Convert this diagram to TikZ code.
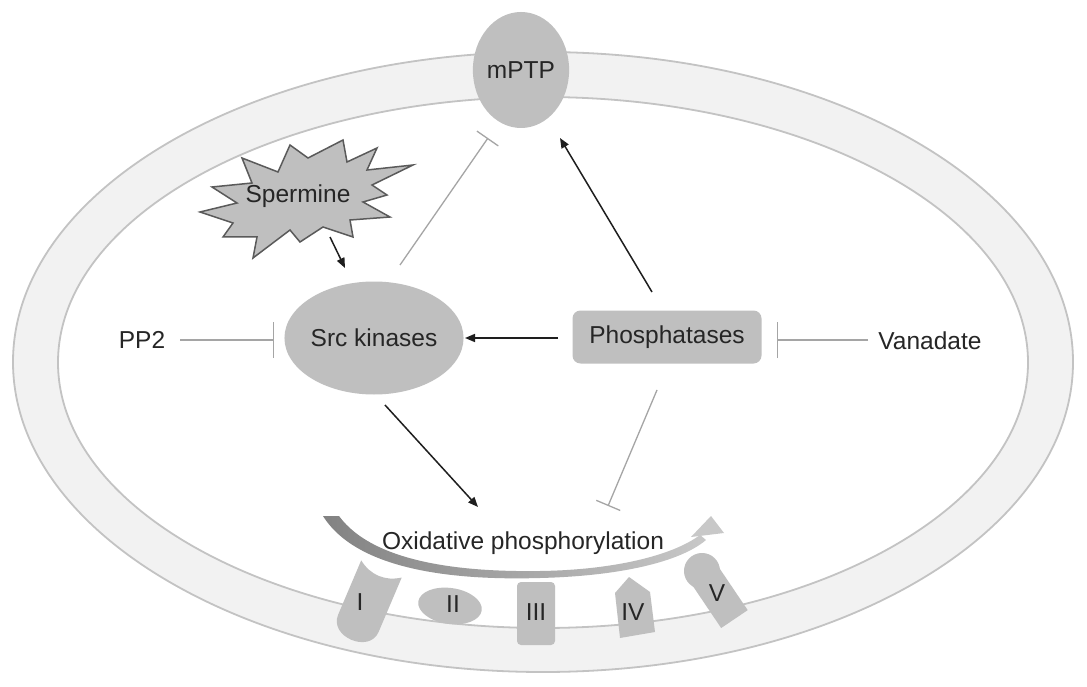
\documentclass[tikz,border=0pt]{standalone}
\usepackage{fontspec}
\setmainfont{Liberation Sans}
\usetikzlibrary{shapes.geometric,arrows.meta,calc}
\definecolor{memfill}{RGB}{242,242,242}
\definecolor{memline}{RGB}{195,195,195}
\definecolor{nodefill}{RGB}{191,191,191}
\definecolor{txt}{RGB}{38,38,38}
\definecolor{inhcol}{RGB}{165,165,165}
\definecolor{arrcol}{RGB}{30,30,30}
\definecolor{stardraw}{RGB}{90,90,90}
\definecolor{shdark}{RGB}{130,130,130}
\definecolor{shlight}{RGB}{200,200,200}
\begin{document}
\begin{tikzpicture}[x=1pt,y=-1pt,
  font=\fontsize{24.5}{29}\selectfont,
  lbl/.style={inner sep=0pt, text=txt},
  filled/.style={fill=nodefill, inner sep=0pt, text=txt},
  arr/.style={draw=arrcol, line width=1.5pt, -{Triangle[length=10pt,width=8pt]}},
  inh/.style={draw=inhcol, line width=1.3pt, -{Bar[width=26pt]}},
  inhwide/.style={draw=inhcol, line width=1.3pt, -{Bar[width=36pt]}}]
\fill[white] (0,0) rectangle (1087,687);
\useasboundingbox (0,0) rectangle (1087,687);
% membrane
\fill[memfill, even odd rule] (543,362) ellipse [x radius=530, y radius=310]
  (543,362.5) ellipse [x radius=485, y radius=265.5];
\draw[memline, line width=1.8pt] (543,362) ellipse [x radius=530, y radius=310];
\draw[memline, line width=1.8pt] (543,362.5) ellipse [x radius=485, y radius=265.5];
% complex I
\begin{scope}[shift={(367,603)}, rotate=-23]
\fill[nodefill] (-22,-37) .. controls (-8,-27) and (8,-27) .. (22,-37) -- (22,22)
  .. controls (22,46) and (-22,46) .. (-22,22) -- cycle;
\end{scope}
% complex II
\fill[nodefill, rotate around={-8:(450,606)}] (450,606) ellipse [x radius=32, y radius=18];
% complex III
\fill[nodefill, rounded corners=4pt] (517,582) rectangle (555,645);
% complex IV
\fill[nodefill] (629,577) -- (650,592) -- (655,632) -- (620,638) -- (615,593) -- cycle;
% complex V
\begin{scope}[shift={(702,571)}, rotate=34]
\fill[nodefill] (0,0) circle [radius=18];
\fill[nodefill] (-16,0) rectangle (16,58);
\end{scope}
\node[lbl] (c1) at (360,602) {I};
\node[lbl] (c2) at (453,604) {II};
\node[lbl] (c3) at (536,612) {III};
\node[lbl] (c4) at (633,612) {IV};
\node[lbl] (c5) at (717,593) {V};
% oxidative phosphorylation curved arrow
\shade[left color=shdark, right color=shlight] (323,516) .. controls (360,575) and (470,580) .. (540,578)
  .. controls (620,576) and (680,562) .. (706,540) -- (700,535)
  .. controls (672,556) and (612,570) .. (540,571)
  .. controls (470,572) and (375,565) .. (339,516) -- cycle;
\fill[shlight] (691,537) -- (711,516) -- (724,533) -- cycle;
\node[lbl] (oxphos) at (523,543) {Oxidative phosphorylation};
% mPTP
\node[ellipse, filled, minimum width=73pt, minimum height=116pt] (mptp) at (521,70) {mPTP};
% spermine star
\filldraw[fill=nodefill, draw=stardraw, line width=1.5pt, line join=miter]
  (200,212) -- (237,203) -- (212,187) -- (252,183) -- (242,158) -- (278,172) -- (290,145)
  -- (308,158) -- (343,140) -- (347,162) -- (377,148) -- (367,170) -- (413,165) -- (372,185)
  -- (387,195) -- (363,202) -- (390,217) -- (350,220) -- (353,237) -- (323,227) -- (300,242)
  -- (290,230) -- (253,258) -- (257,237) -- (223,237) -- (233,223) -- cycle;
\node[lbl] (spermine) at (298,196) {Spermine};
% main nodes
\node[ellipse, filled, minimum width=178pt, minimum height=113pt] (src) at (374,338) {Src kinases};
\node[rectangle, rounded corners=8pt, filled, minimum width=189pt, minimum height=53pt] (phos) at (667,337) {Phosphatases};
\node[lbl] (pp2) at (142,340) {PP2};
\node[lbl] (van) at (930,341) {Vanadate};
% connectors
\draw[arr] ($(spermine)+(32,41)$) -- ($(src)+(-29,-70)$);
\draw[inh] ($(src)+(26,-73)$) -- ($(mptp)+(-33,68)$);
\draw[arr] ($(phos)+(-15,-45)$) -- ($(mptp)+(39,68)$);
\draw[arr] ($(phos)+(-109,1)$) -- ($(src)+(91,0)$);
\draw[inhwide] ($(pp2)+(38,0)$) -- ($(src)+(-100,2)$);
\draw[inhwide] ($(van)+(-62,-1)$) -- ($(phos)+(110,3)$);
\draw[arr] ($(src)+(11,67)$) -- ($(oxphos)+(-45,-36)$);
\draw[inh] ($(phos)+(-10,53)$) -- ($(oxphos)+(85,-37)$);
\end{tikzpicture}
\end{document}
